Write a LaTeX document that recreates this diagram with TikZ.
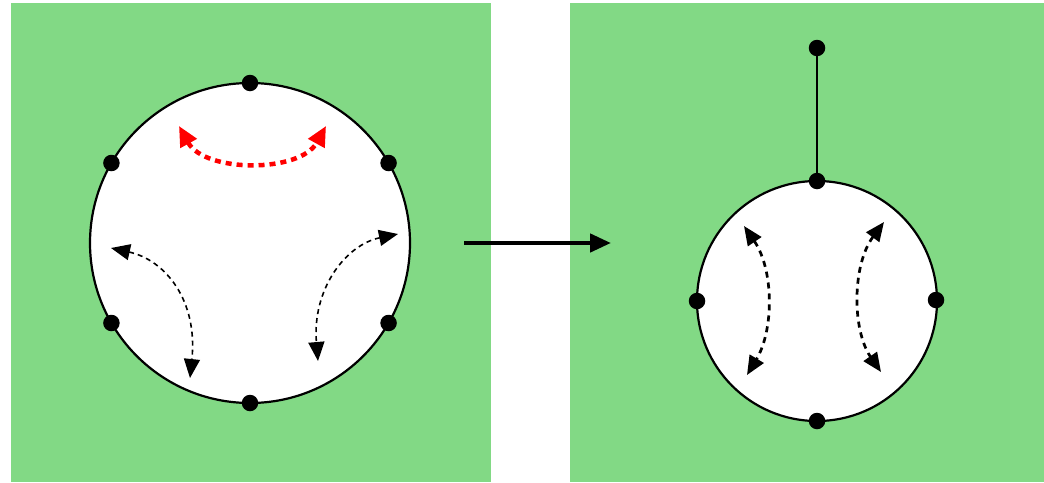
\documentclass[tikz,border=0pt]{standalone}
\usetikzlibrary{arrows.meta,calc}
\definecolor{bggreen}{HTML}{82D985}
\begin{document}
\begin{tikzpicture}[x=1pt,y=-1pt,
  panel/.style={fill=bggreen,draw=none},
  ring/.style={draw=black,fill=white,line width=2.2pt,circle,inner sep=0pt},
  dot/.style={circle,fill=black,inner sep=0pt,minimum size=16.5pt},
  redarc/.style={red,line width=4.5pt,dash pattern=on 6pt off 5pt,{Triangle[length=20pt,width=18pt]}-{Triangle[length=20pt,width=18pt]}},
  thinarc/.style={black,line width=1.6pt,dash pattern=on 5pt off 4pt,{Triangle[length=19pt,width=16pt]}-{Triangle[length=19pt,width=16pt]}},
  midarc/.style={black,line width=2.7pt,dash pattern=on 6pt off 5pt,{Triangle[length=19pt,width=16pt]}-{Triangle[length=19pt,width=16pt]}},
  bigarrow/.style={black,line width=4.5pt,-{Triangle[length=21pt,width=18pt]}}]
\useasboundingbox (0,0) rectangle (1044,482);
\fill[panel] (11,3) rectangle (491,482);
\fill[panel] (570,3) rectangle (1044,482);
% left circle
\node[ring,minimum size=320pt] (L) at (250,243) {};
\foreach \a/\n in {90/t,270/b,150/ul,30/ur,210/ll,330/lr}
  \node[dot] (L\n) at ($(250,243)+(\a:160 and -160)$) {};
% right circle
\node[ring,minimum size=240pt] (R) at (817,301) {};
\node[dot] (Rt) at (817,181) {};
\node[dot] (Rb) at (817,421) {};
\node[dot] (Rl) at (697,301) {};
\node[dot] (Rr) at (936,300) {};
\node[dot] (Top) at (817,48) {};
\draw[line width=2.2pt] (Top) -- (Rt);
% arrow between
\coordinate (A1) at (464,243);
\coordinate (A2) at (611,243);
\draw[bigarrow] (A1) -- (A2);
% arcs
\coordinate (r1) at (179,126);
\coordinate (r2) at (326,126);
\draw[redarc] (r1) .. controls (205,173) and (300,173) .. (r2);
\coordinate (a1) at (111,248);
\coordinate (a2) at (190,378);
\draw[thinarc] (a1) .. controls (165,260) and (198,300) .. (a2);
\coordinate (b1) at (398,234);
\coordinate (b2) at (318,361);
\draw[thinarc] (b1) .. controls (345,245) and (312,290) .. (b2);
\coordinate (c1) at (744,226);
\coordinate (c2) at (747,375);
\draw[midarc] (c1) .. controls (774,270) and (774,330) .. (c2);
\coordinate (d1) at (884,222);
\coordinate (d2) at (881,372);
\draw[midarc] (d1) .. controls (852,265) and (852,330) .. (d2);
\end{tikzpicture}
\end{document}
